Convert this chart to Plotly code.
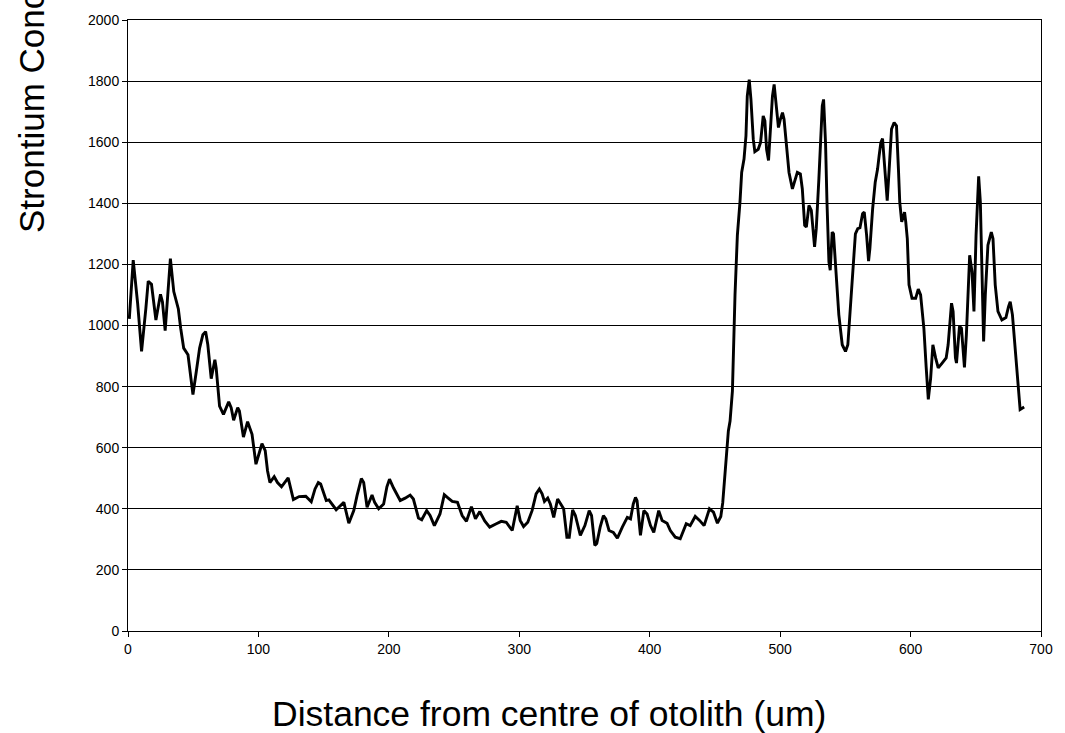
import plotly.graph_objects as go

distance_um = [
    1.0, 4.0, 7.4, 10.4, 13.7, 15.5, 18.0, 21.4, 24.9, 26.4, 28.5, 32.5, 35.1, 38.6, 40.4, 42.7,
    46.0, 49.8, 52.4, 54.9, 57.4, 59.5, 61.2, 63.8, 66.6, 67.6, 70.2, 73.2, 77.2, 79.1, 81.0,
    84.1, 85.4, 88.5, 91.7, 95.1, 98.1, 100.1, 102.7, 105.2, 107.0, 108.8, 112.1, 114.6, 117.7,
    122.8, 126.8, 131.2, 136.3, 140.5, 143.4, 145.9, 147.7, 152.0, 154.0, 159.6, 165.5, 169.3,
    173.1, 175.6, 178.9, 180.7, 183.3, 187.1, 189.1, 192.2, 196.0, 198.5, 200.5, 203.6, 208.7,
    212.5, 216.3, 218.8, 222.7, 225.2, 229.0, 231.6, 234.9, 239.2, 242.5, 245.5, 248.6, 252.6,
    256.2, 259.5, 263.3, 266.4, 269.7, 273.5, 277.3, 282.4, 286.2, 290.0, 294.6, 298.4, 300.7,
    303.3, 306.5, 309.8, 312.9, 315.4, 317.5, 319.3, 321.8, 323.8, 326.4, 329.4, 331.9, 334.0,
    336.5, 338.3, 340.9, 343.0, 346.8, 350.3, 353.6, 355.4, 357.9, 359.4, 362.0, 364.5, 366.3,
    368.8, 372.1, 375.2, 379.0, 382.8, 385.3, 387.4, 389.1, 390.3, 392.9, 395.5, 398.0, 400.6,
    403.1, 406.9, 409.5, 413.3, 415.8, 419.6, 423.4, 425.5, 428.0, 431.0, 434.9, 438.2, 441.7,
    445.8, 448.9, 451.9, 454.5, 456.0, 457.3, 458.5, 460.3, 461.6, 463.4, 465.4, 467.2, 469.2,
    470.5, 472.3, 473.8, 474.8, 476.3, 477.6, 479.4, 480.6, 483.2, 485.0, 487.0, 488.3, 489.6,
    491.1, 492.6, 494.1, 495.4, 496.6, 498.7, 500.2, 501.8, 503.0, 504.8, 506.8, 509.4, 511.1,
    513.2, 515.5, 517.0, 518.8, 520.1, 522.1, 523.9, 526.4, 527.7, 529.7, 531.0, 532.3, 533.3,
    534.8, 535.9, 537.4, 538.4, 539.9, 540.9, 543.0, 545.0, 547.6, 550.1, 551.9, 553.6, 555.7,
    557.7, 559.5, 561.2, 563.2, 564.5, 566.3, 567.8, 568.8, 570.9, 572.9, 574.7, 575.9, 577.2,
    578.5, 579.8, 581.1, 582.1, 583.6, 585.4, 587.4, 589.2, 590.7, 591.7, 593.2, 595.4, 596.3,
    597.5, 598.8, 601.1, 603.9, 605.9, 607.7, 610.2, 612.0, 613.6, 615.4, 617.1, 619.2, 621.2,
    624.2, 627.3, 628.8, 631.4, 632.6, 634.4, 635.2, 637.5, 639.0, 641.3, 642.8, 644.1, 645.3,
    647.1, 648.6, 650.2, 652.2, 653.5, 654.8, 656.0, 657.3, 659.3, 661.9, 663.2, 664.9, 667.0,
    670.0, 673.1, 675.1, 676.4, 678.1, 680.2, 682.2, 684.0, 687.1,
]

strontium = [
    1022, 1214, 1072, 915, 1056, 1145, 1135, 1018, 1102, 1078, 983, 1219, 1111, 1054, 991, 926,
    904, 774, 850, 926, 970, 980, 937, 826, 888, 861, 736, 709, 750, 731, 690,
    731, 720, 635, 685, 644, 546, 579, 613, 590, 524, 486, 505, 486, 472,
    501, 430, 440, 441, 423, 465, 486, 481, 427, 429, 397, 421, 353,
    394, 443, 499, 486, 405, 445, 421, 400, 416, 472, 497, 468, 427,
    435, 445, 432, 370, 364, 394, 378, 345, 383, 446, 435, 424, 421,
    378, 359, 407, 367, 391, 360, 340, 351, 359, 356, 329, 410, 362,
    342, 356, 394, 449, 465, 449, 424, 435, 416, 372, 432, 416, 400,
    307, 307, 396, 378, 313, 345, 394, 378, 280, 286, 340, 378, 367,
    329, 323, 304, 340, 372, 367, 416, 437, 427, 313, 394, 383, 345,
    323, 394, 362, 353, 329, 307, 302, 323, 351, 345, 375, 362, 345,
    400, 389, 353, 375, 420, 494, 568, 655, 687, 785, 1100, 1295, 1404,
    1501, 1545, 1621, 1751, 1805, 1740, 1610, 1569, 1577, 1599, 1686, 1670, 1577,
    1540, 1643, 1751, 1789, 1730, 1648, 1675, 1697, 1675, 1599, 1501, 1447, 1469,
    1501, 1496, 1447, 1328, 1322, 1393, 1377, 1257, 1317, 1480, 1588, 1719, 1740,
    1599, 1404, 1208, 1181, 1306, 1300, 1176, 1035, 937, 915, 937, 1035, 1187,
    1300, 1317, 1320, 1366, 1371, 1295, 1211, 1252, 1382, 1469, 1512, 1556, 1599,
    1612, 1534, 1436, 1409, 1512, 1643, 1664, 1654, 1512, 1404, 1339, 1371, 1339,
    1284, 1133, 1089, 1089, 1119, 1100, 991, 861, 758, 828, 937, 894, 861,
    877, 894, 937, 1073, 1046, 894, 877, 997, 991, 863, 970, 1143, 1230,
    1176, 1046, 1295, 1488, 1404, 1133, 948, 1100, 1263, 1306, 1284, 1133, 1046,
    1018, 1026, 1062, 1078, 1035, 915, 807, 725, 733,
]

x_ticks = [0, 100, 200, 300, 400, 500, 600, 700]
y_ticks = [0, 200, 400, 600, 800, 1000, 1200, 1400, 1600, 1800, 2000]

x_title = "Distance from centre of otolith (um)"
y_title = "Strontium Concentration (ppm)"

FONT = "Liberation Sans, Arial, sans-serif"

fig = go.Figure()
fig.add_trace(go.Scatter(
    x=distance_um, y=strontium, mode="lines",
    line=dict(color="black", width=2.9),
    showlegend=False, hoverinfo="skip",
))

W, H = 1065, 733
L, R, T, B = 128, 19, 17, 102
pw, ph = W - L - R, H - T - B

fig.update_layout(
    width=W, height=H,
    margin=dict(l=L, r=R, t=T, b=B, pad=0),
    paper_bgcolor="white", plot_bgcolor="white",
    font=dict(family=FONT, color="black", size=14),
)
fig.update_xaxes(
    range=[0, 700], tickvals=x_ticks, ticktext=[str(v) for v in x_ticks],
    showgrid=False, zeroline=False,
    showline=True, linecolor="black", linewidth=1, mirror=True,
    ticks="outside", ticklen=5, tickwidth=1, tickcolor="black",
    tickfont=dict(size=14, family=FONT, color="black"),
)
fig.update_yaxes(
    range=[0, 2000], tickvals=y_ticks, ticktext=[str(v) for v in y_ticks],
    showgrid=True, gridcolor="black", gridwidth=1, zeroline=False,
    showline=True, linecolor="black", linewidth=1, mirror=True,
    ticks="outside", ticklen=5, tickwidth=1, tickcolor="black",
    tickfont=dict(size=14, family=FONT, color="black"),
)

def px_x(p):
    return (p - L) / pw

def px_y(p):
    return (T + ph - p) / ph

fig.add_annotation(
    text=x_title, xref="paper", yref="paper",
    x=px_x(551), y=px_y(714), xanchor="center", yanchor="middle",
    showarrow=False, font=dict(size=35.5, family=FONT, color="black"),
)
fig.add_annotation(
    text=y_title, xref="paper", yref="paper", textangle=-90,
    x=px_x(31), y=px_y(233), xanchor="center", yanchor="bottom",
    showarrow=False, font=dict(size=35, family=FONT, color="black"),
)

fig.write_html("out.html")
